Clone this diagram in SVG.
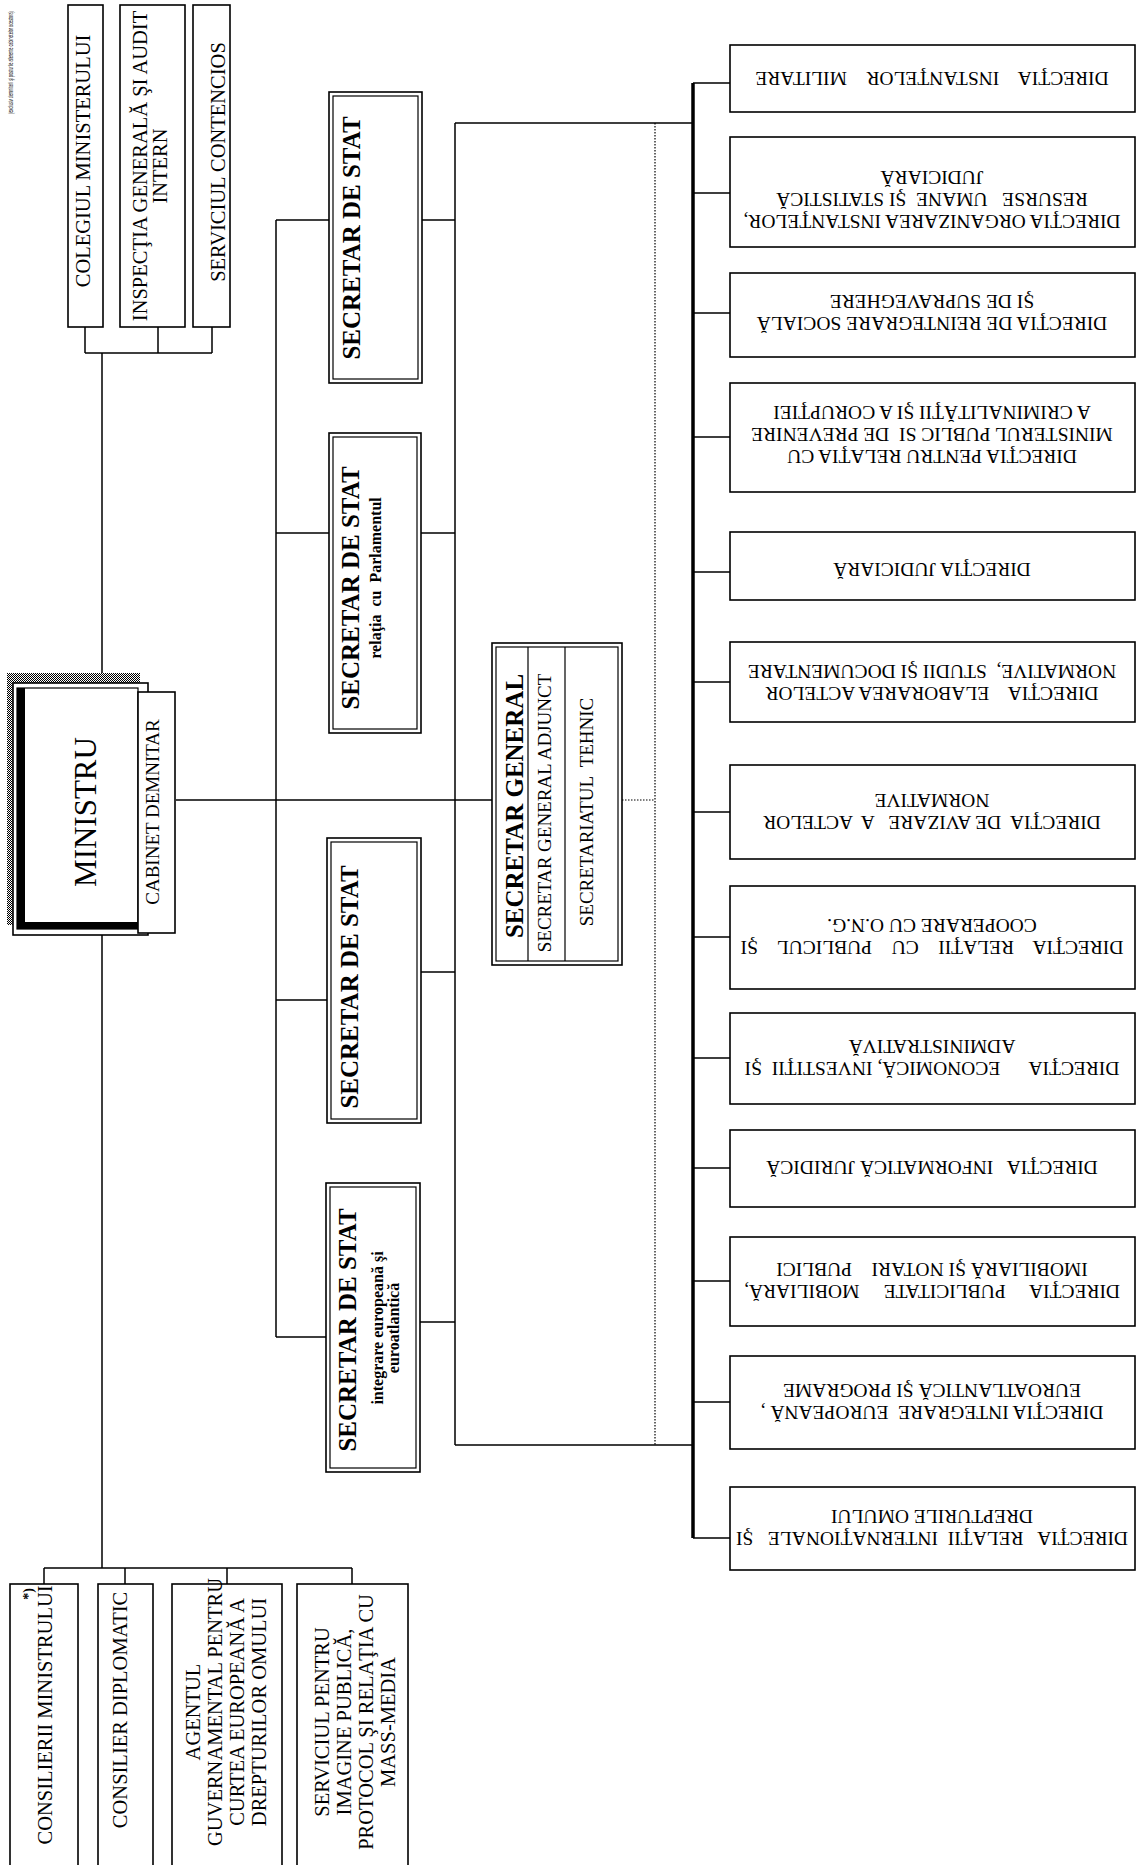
<svg xmlns="http://www.w3.org/2000/svg" width="1137" height="1865" viewBox="0 0 1137 1865">
<defs>
<pattern id="hatch" width="2" height="2" patternUnits="userSpaceOnUse">
<rect width="2" height="2" fill="#fff"/>
<rect width="1" height="1" fill="#000"/>
<rect x="1" y="1" width="1" height="1" fill="#000"/>
</pattern>
</defs>
<style>
text{font-family:"Liberation Serif","Times New Roman",serif;fill:#000;white-space:pre;}
.box{fill:#fff;stroke:#000;stroke-width:1.6;}
.in{fill:none;stroke:#000;stroke-width:1.2;}
.t20{font-size:20.5px;text-anchor:middle;}
.t19{font-size:19px;text-anchor:middle;}
.d{font-size:19.5px;text-anchor:middle;}
.b25{font-size:25px;font-weight:bold;text-anchor:middle;}
.b16{font-size:16px;font-weight:bold;text-anchor:middle;}
.ln{stroke:#000;stroke-width:1.5;fill:none;}
.thick{stroke:#000;stroke-width:3.5;fill:none;}
.dot{stroke:#000;stroke-width:1.2;stroke-dasharray:1.5 1.5;fill:none;}
.note{font-family:"Liberation Sans",Arial,sans-serif;font-size:8px;}
</style>
<rect width="1137" height="1865" fill="#fff"/>

<g id="connectors">
<path class="ln" d="M85 327V353M158 327V353M212 327V353M85 353H212M102 353V683"/>
<path class="ln" d="M102 935V1568M44 1568H352M44 1568V1584M125 1568V1584M227 1568V1584M352 1568V1584"/>
<path class="ln" d="M176 800H492"/>
<path class="ln" d="M276 220V1337M276 220H329M276 533H329M276 1000H327M276 1337H326"/>
<path class="ln" d="M422 220H455M421 533H455M421 972H455M420 1322H455"/>
<path class="ln" d="M455 123V1445M455 123H693M455 1445H693"/>
<path class="thick" d="M693 83V1538"/>
<path class="ln" d="M693 83H730M693 193H730M693 313H730M693 437H730M693 572H730M693 682H730M693 812H730M693 937H730M693 1058H730M693 1168H730M693 1281H730M693 1402H730M693 1538H730"/>
<path class="dot" d="M622 800H655M655 123V1445"/>
</g>

<g id="note">
<text class="note" transform="translate(13,0) rotate(-90) scale(0.475,1)" x="-240">(exclusiv demnitarii şi posturile aferente cabinetelor acestora)</text>
</g>

<g id="colegiul">
<rect class="box" x="68" y="5" width="35" height="322"/>
<text class="t20" transform="translate(83,161) rotate(-90)" y="6.8">COLEGIUL MINISTERULUI</text>
</g>
<g id="inspectia">
<rect class="box" x="120" y="5" width="65" height="322"/>
<text class="t20" transform="translate(150,166) rotate(-90)"><tspan x="0" y="-3.2">INSPECŢIA GENERALĂ ŞI AUDIT</tspan><tspan x="0" y="16.8">INTERN</tspan></text>
</g>
<g id="contencios">
<rect class="box" x="193" y="5" width="37" height="322"/>
<text class="t20" transform="translate(218,162) rotate(-90)" y="6.8">SERVICIUL CONTENCIOS</text>
</g>

<g id="ministru">
<rect x="7" y="673" width="133" height="252" fill="url(#hatch)"/>
<rect class="box" x="13" y="683" width="135" height="252"/>
<rect class="in" x="17" y="688" width="121" height="241"/>
<rect x="17" y="688" width="8" height="241" fill="#000"/>
<rect x="17" y="922" width="121" height="7" fill="#000"/>
<text transform="translate(86,812) rotate(-90)" y="10" style="font-size:31px;text-anchor:middle">MINISTRU</text>
</g>
<g id="cabinet">
<rect class="box" x="138" y="692" width="37" height="241"/>
<text class="t19" transform="translate(153,812) rotate(-90)" y="6.3">CABINET DEMNITAR</text>
</g>

<g id="sds1">
<rect class="box" x="329" y="92" width="93" height="291" stroke-width="2.2"/>
<rect class="in" x="333" y="96" width="85" height="283"/>
<text class="b25" transform="translate(352,238) rotate(-90)" y="8">SECRETAR DE STAT</text>
</g>
<g id="sds2">
<rect class="box" x="329" y="433" width="92" height="300" stroke-width="2.2"/>
<rect class="in" x="333" y="437" width="84" height="292"/>
<text class="b25" transform="translate(351,588) rotate(-90)" y="8">SECRETAR DE STAT</text>
<text class="b16" transform="translate(375,578) rotate(-90)" y="5.5">relaţia  cu  Parlamentul</text>
</g>
<g id="sds3">
<rect class="box" x="327" y="838" width="94" height="285" stroke-width="2.2"/>
<rect class="in" x="331" y="842" width="86" height="277"/>
<text class="b25" transform="translate(350,987) rotate(-90)" y="8">SECRETAR DE STAT</text>
</g>
<g id="sds4">
<rect class="box" x="326" y="1183" width="94" height="289" stroke-width="2.2"/>
<rect class="in" x="330" y="1187" width="86" height="281"/>
<text class="b25" transform="translate(348,1330) rotate(-90)" y="8">SECRETAR DE STAT</text>
<text class="b16" transform="translate(385,1328) rotate(-90)"><tspan x="0" y="-2">integrare europeană şi</tspan><tspan x="0" y="14">euroatlantică</tspan></text>
</g>

<g id="secretar-general">
<rect class="box" x="492" y="643" width="130" height="322" stroke-width="2.2"/>
<rect class="in" x="496" y="647" width="122" height="314"/>
<path class="in" d="M528 647V961M565 647V961"/>
<text class="b25" transform="translate(515,806) rotate(-90)" y="8">SECRETAR GENERAL</text>
<text class="t19" transform="translate(545,813) rotate(-90)" y="6.3">SECRETAR GENERAL ADJUNCT</text>
<text class="t19" transform="translate(587,812) rotate(-90)" y="6.3">SECRETARIATUL  TEHNIC</text>
</g>

<g id="consilierii">
<rect class="box" x="10" y="1584" width="68" height="290"/>
<text class="t20" transform="translate(45,1715) rotate(-90)" y="6.8">CONSILIERII MINISTRULUI</text>
<text transform="translate(28,1594) rotate(-90)" y="5" style="font-size:14px;font-weight:bold;text-anchor:middle">*)</text>
</g>
<g id="consilier-diplomatic">
<rect class="box" x="98" y="1584" width="55" height="290"/>
<text class="t20" transform="translate(120,1710) rotate(-90)" y="6.8">CONSILIER DIPLOMATIC</text>
</g>
<g id="agentul">
<rect class="box" x="172" y="1584" width="110" height="290"/>
<text class="t20" transform="translate(226,1712) rotate(-90)"><tspan x="0" y="-26.2">AGENTUL</tspan><tspan x="0" y="-4.2">GUVERNAMENTAL PENTRU</tspan><tspan x="0" y="17.8">CURTEA EUROPEANĂ A</tspan><tspan x="0" y="39.8">DREPTURILOR OMULUI</tspan></text>
</g>
<g id="serviciul-imagine">
<rect class="box" x="297" y="1584" width="111" height="290"/>
<text class="t20" transform="translate(355,1722) rotate(-90)"><tspan x="0" y="-26.2">SERVICIUL PENTRU</tspan><tspan x="0" y="-4.2">IMAGINE PUBLICĂ,</tspan><tspan x="0" y="17.8">PROTOCOL ŞI RELAŢIA CU</tspan><tspan x="0" y="39.8">MASS-MEDIA</tspan></text>
</g>

<g id="dir1">
<rect class="box" x="730" y="45" width="405" height="67"/>
<text class="d" transform="translate(932,79) rotate(180)" y="7">DIRECŢIA    INSTANŢELOR    MILITARE</text>
</g>
<g id="dir2">
<rect class="box" x="730" y="137" width="405" height="110"/>
<text class="d" transform="translate(932,200) rotate(180)"><tspan x="0" y="-15">DIRECŢIA ORGANIZAREA INSTANŢELOR,</tspan><tspan x="0" y="7">RESURSE   UMANE  ŞI STATISTICĂ</tspan><tspan x="0" y="29">JUDICIARĂ</tspan></text>
</g>
<g id="dir3">
<rect class="box" x="730" y="273" width="405" height="84"/>
<text class="d" transform="translate(932,313) rotate(180)"><tspan x="0" y="-4">DIRECŢIA DE REINTEGRARE SOCIALĂ</tspan><tspan x="0" y="18">ŞI DE SUPRAVEGHERE</tspan></text>
</g>
<g id="dir4">
<rect class="box" x="730" y="383" width="405" height="109"/>
<text class="d" transform="translate(932,435) rotate(180)"><tspan x="0" y="-15">DIRECŢIA PENTRU RELAŢIA CU</tspan><tspan x="0" y="7">MINISTERUL PUBLIC SI  DE PREVENIRE</tspan><tspan x="0" y="29">A CRIMINALITĂŢII ŞI A CORUPŢIEI</tspan></text>
</g>
<g id="dir5">
<rect class="box" x="730" y="532" width="405" height="68"/>
<text class="d" transform="translate(932,570) rotate(180)" y="7">DIRECŢIA JUDICIARĂ</text>
</g>
<g id="dir6">
<rect class="box" x="730" y="642" width="405" height="80"/>
<text class="d" transform="translate(932,683) rotate(180)"><tspan x="0" y="-4">DIRECŢIA    ELABORAREA ACTELOR</tspan><tspan x="0" y="18">NORMATIVE,  STUDII ŞI DOCUMENTARE</tspan></text>
</g>
<g id="dir7">
<rect class="box" x="730" y="765" width="405" height="94"/>
<text class="d" transform="translate(932,812) rotate(180)"><tspan x="0" y="-4">DIRECŢIA  DE AVIZARE   A  ACTELOR</tspan><tspan x="0" y="18">NORMATIVE</tspan></text>
</g>
<g id="dir8">
<rect class="box" x="730" y="886" width="405" height="103"/>
<text class="d" transform="translate(932,937) rotate(180)"><tspan x="0" y="-4">DIRECŢIA    RELAŢII    CU    PUBLICUL    ŞI</tspan><tspan x="0" y="18">COOPERARE CU O.N.G.</tspan></text>
</g>
<g id="dir9">
<rect class="box" x="730" y="1013" width="405" height="91"/>
<text class="d" transform="translate(932,1058) rotate(180)"><tspan x="0" y="-4">DIRECŢIA      ECONOMICĂ, INVESTIŢII  ŞI</tspan><tspan x="0" y="18">ADMINISTRATIVĂ</tspan></text>
</g>
<g id="dir10">
<rect class="box" x="730" y="1130" width="405" height="77"/>
<text class="d" transform="translate(932,1168) rotate(180)" y="7">DIRECŢIA   INFORMATICĂ JURIDICĂ</text>
</g>
<g id="dir11">
<rect class="box" x="730" y="1237" width="405" height="89"/>
<text class="d" transform="translate(932,1281) rotate(180)"><tspan x="0" y="-4">DIRECŢIA     PUBLICITATE     MOBILIARĂ,</tspan><tspan x="0" y="18">IMOBILIARĂ ŞI NOTARI    PUBLICI</tspan></text>
</g>
<g id="dir12">
<rect class="box" x="730" y="1356" width="405" height="93"/>
<text class="d" transform="translate(932,1402) rotate(180)"><tspan x="0" y="-4">DIRECŢIA INTEGRARE  EUROPEANĂ ,</tspan><tspan x="0" y="18">EUROATLANTICĂ ŞI PROGRAME</tspan></text>
</g>
<g id="dir13">
<rect class="box" x="730" y="1487" width="405" height="83"/>
<text class="d" transform="translate(932,1528) rotate(180)"><tspan x="0" y="-4">DIRECŢIA   RELAŢII  INTERNAŢIONALE   ŞI</tspan><tspan x="0" y="18">DREPTURILE OMULUI</tspan></text>
</g>
</svg>
